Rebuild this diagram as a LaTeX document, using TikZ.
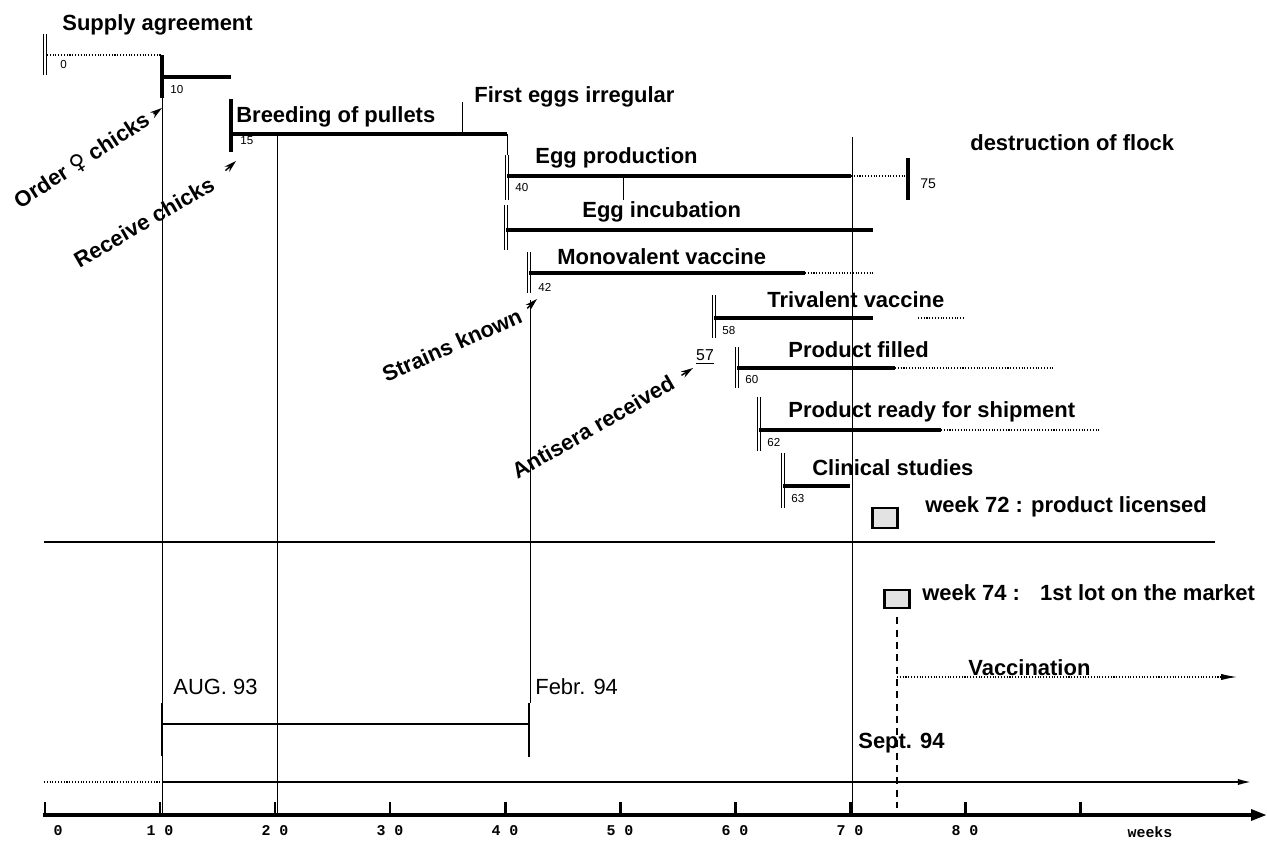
\documentclass[tikz,border=0pt]{standalone}
\usepackage{fontspec}
\setmainfont{Liberation Sans}
\newfontfamily\axisfont{Liberation Mono}
\newfontfamily\symfont{DejaVu Sans}
\usetikzlibrary{arrows.meta,positioning}
\tikzset{
  task/.style={font=\fontsize{12.5}{15}\selectfont\bfseries, anchor=west, inner sep=0pt},
  datelbl/.style={font=\fontsize{12.5}{15}\selectfont, anchor=west, inner sep=0pt},
  wk/.style={font=\fontsize{6.6}{8}\selectfont, anchor=west, inner sep=0pt},
  axlbl/.style={font=\axisfont\fontsize{8.5}{10}\selectfont\bfseries, inner sep=0pt},
  note/.style={font=\fontsize{12.5}{15}\selectfont\bfseries, inner sep=0pt},
  span/.style={line width=1.9pt},
  ext/.style={line width=0.6pt, densely dotted},
  guide/.style={line width=0.5pt},
  stopbar/.style={double, double distance=1pt, line width=0.8pt},
  heavybar/.style={line width=2.2pt},
  ptr/.style={-{Stealth[length=7pt,width=4pt]}, line width=0.8pt},
  flag/.style={draw, line width=1.6pt, fill=gray!22, inner sep=0pt}
}
\begin{document}
\begin{tikzpicture}[x=0.02cm, y=-0.02cm]
  \useasboundingbox (0,0) rectangle (1267,841);

  \draw[guide] (162,98) -- (162,815);
  \draw[guide] (277,134) -- (277,815);
  \draw[guide] (530,300) -- (530,703);
  \draw[guide] (852,137) -- (852,815);
  \draw[guide] (462,102) -- (462,134);
  \draw[guide] (507,134) -- (507,155);
  \draw[guide] (623,176) -- (623,200);

  \node[task] (supply) at (62,25) {Supply agreement};
  \draw[stopbar] (45,34) -- (45,75);
  \node[wk] at (60,65) {0};
  \draw[ext] (47,55) -- (162,55);
  \draw[heavybar] (162,55) -- (162,98);
  \draw[span] (162,77) -- (231,77);
  \node[wk] at (170,90) {10};

  \draw[heavybar] (231,99) -- (231,152);
  \draw[span] (231,134) -- (507,134);
  \node[wk] at (240,141) {15};
  \node[task] (breed) at (236,117) {Breeding of pullets};
  \node[task] (first) at (474,97) {First eggs irregular};

  \draw[stopbar] (507,155) -- (507,200);
  \draw[span] (507,176) -- (851,176);
  \draw[ext] (851,176) -- (906,176);
  \draw[heavybar] (908,158) -- (908,200);
  \node[wk, font=\fontsize{8}{9}\selectfont] at (920,184) {75};
  \node[wk] at (515,188) {40};
  \node[task] (eggprod) at (535,158) {Egg production};
  \node[task] (destr) at (970,143) {destruction of flock};

  \draw[stopbar] (506,205) -- (506,250);
  \draw[span] (506,230) -- (873,230);
  \node[task] (incub) at (582,212) {Egg incubation};

  \draw[stopbar] (529,252) -- (529,293);
  \draw[span] (529,273) -- (805,273);
  \draw[ext] (805,273) -- (873,273);
  \node[wk] at (538,287) {42};
  \node[task] (mono) at (557,257) {Monovalent vaccine};

  \draw[stopbar] (714,295) -- (714,338);
  \draw[span] (714,318) -- (873,318);
  \draw[ext] (918,318) -- (963,318);
  \node[wk] at (722,331) {58};
  \node[task] (tri) at (767,300) {Trivalent vaccine};

  \draw[stopbar] (737,347) -- (737,388);
  \draw[span] (737,368) -- (895,368);
  \draw[ext] (895,368) -- (1055,368);
  \node[wk] at (745,380) {60};
  \node[task] (filled) at (788,350) {Product filled};

  \draw[stopbar] (759,397) -- (759,451);
  \draw[span] (759,430) -- (941,430);
  \draw[ext] (941,430) -- (1100,430);
  \node[wk] at (767,443) {62};
  \node[task] (ready) at (788,412) {Product ready for shipment};

  \draw[stopbar] (783,453) -- (783,508);
  \draw[span] (783,486) -- (850,486);
  \node[wk] at (791,499) {63};
  \node[task] (clin) at (812,468) {Clinical studies};

  \node[note, rotate=33] (order) at (82,161) {Order {\symfont ♀} chicks};
  \node[note, rotate=30] (recv) at (144,222) {Receive chicks};
  \node[note, rotate=24] (strains) at (452,345) {Strains known};
  \node[note, rotate=30] (antisera) at (593,427) {Antisera received};
  \node[font=\fontsize{9}{10}\selectfont, inner sep=0pt] (a57) at (705,357) {\underline{57}};
  \coordinate (t10) at (162,108);
  \coordinate (t15) at (236,161);
  \coordinate (t42) at (537,299);
  \coordinate (t57) at (693,368);
  \draw[ptr, shorten <=4pt] (order.east) -- (t10);
  \draw[ptr, shorten <=10pt] (recv.east) -- (t15);
  \draw[ptr, shorten <=5pt] (strains.east) -- (t42);
  \draw[ptr, shorten <=6pt] (antisera.east) -- (t57);

  \node[flag, minimum width=0.5cm, minimum height=0.4cm] (lic) at (885,518) {};
  \node[task] (lictxt) at (925,507) {week 72 : product licensed};
  \draw[line width=1.1pt] (44,542) -- (1215,542);
  \node[flag, minimum width=0.5cm, minimum height=0.36cm] (mkt) at (897,599) {};
  \node[task] (mkttxt) at (922,593) {week 74 :\hspace{0.55em} 1st lot on the market};
  \draw[line width=0.6pt, dash pattern=on 4pt off 3pt] (mkt.south) ++(0,8) -- (897,808);
  \node[task] (vacc) at (968,668) {Vaccination};
  \draw[ext, -{Latex[length=9pt,width=3.5pt]}] (897,677) -- (1237,677);

  \node[datelbl] (aug) at (173,687) {AUG. 93};
  \node[datelbl] (feb) at (535,687) {Febr. 94};
  \node[task] (sept) at (858,743) {Sept. 94};
  \draw[line width=1.1pt] (162,724) -- (529,724);
  \draw[line width=1.3pt] (162,703) -- (162,756);
  \draw[line width=1.3pt] (529,703) -- (529,757);

  \draw[ext] (44,782) -- (162,782);
  \draw[line width=1.1pt, -{Latex[length=8pt,width=3.5pt]}] (162,782) -- (1252,782);
  \draw[line width=2.2pt, -{Triangle[length=9pt,width=6pt]}] (43,815) -- (1267,815);
  \foreach \k in {0,...,9}
    \draw[line width=1.7pt] ({45+115*\k},802) -- ({45+115*\k},815);
  \node[axlbl] at (58,831) {0};
  \foreach \k/\t in {1/1 0,2/2 0,3/3 0,4/4 0,5/5 0,6/6 0,7/7 0,8/8 0}
    \node[axlbl] at ({45+115*\k},831) {\t};
  \node[axlbl] at (1150,832) {weeks};
\end{tikzpicture}
\end{document}
